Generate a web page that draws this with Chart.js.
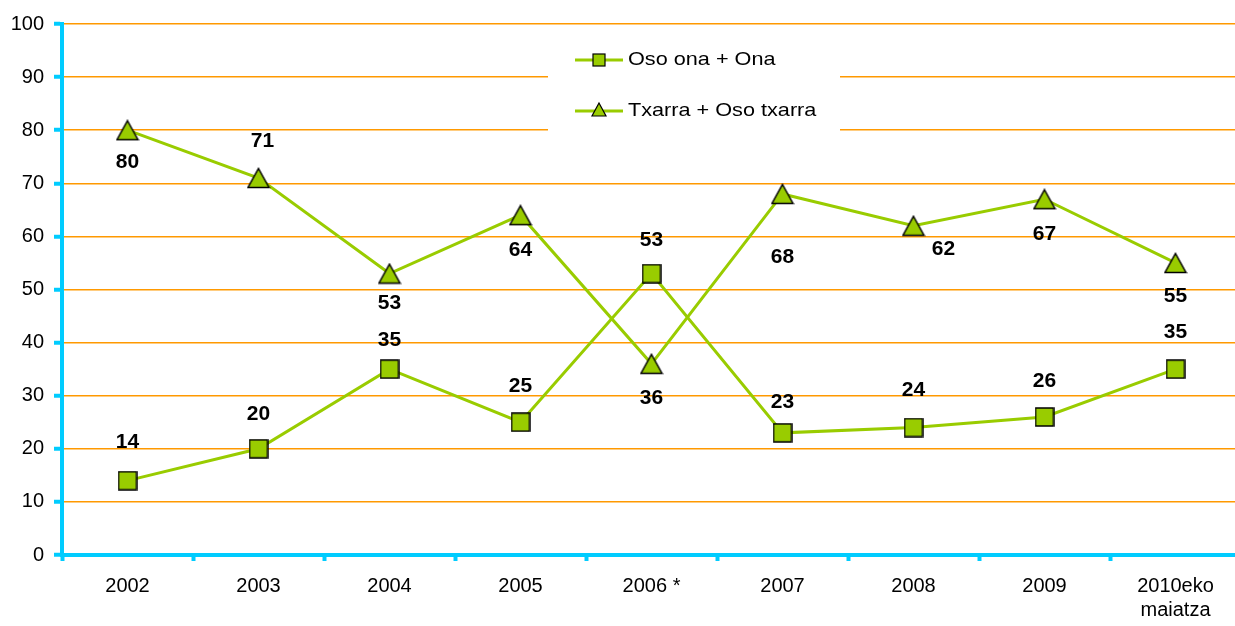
<!DOCTYPE html>
<html>
<head>
<meta charset="utf-8">
<script src="https://cdn.jsdelivr.net/npm/chart.js@4/dist/chart.umd.min.js"></script>
<style>
  html, body { margin: 0; padding: 0; background: #fff; overflow: hidden; }
  #wrap { width: 1235px; height: 626px; overflow: hidden; }
</style>
</head>
<body>
<div id="wrap"><canvas id="chart" width="1248" height="626"></canvas></div>
<script>
// chart data
const categories = ['2002', '2003', '2004', '2005', '2006 *', '2007', '2008', '2009', ['2010eko', 'maiatza']];
const osoOnaOna = [14, 20, 35, 25, 53, 23, 24, 26, 35];
const txarraOsoTxarra = [80, 71, 53, 64, 36, 68, 62, 67, 55];
const seriesNames = ['Oso ona + Ona', 'Txarra + Oso txarra'];
const yMin = 0, yMax = 100, yStep = 10;

// where the value labels sit relative to their marker (px)
const squareLabelDy = [-38, -35, -29, -36, -33, -31, -37, -36, -37];
const triangleLabelDy = [32, -37, 30, 35, 34, 63, 23, 35, 33];
const triangleLabelDx = [0, 4, 0, 0, 0, 0, 30, 0, 0];

const GREEN = '#99CC00';
const CYAN = '#00CCFF';
const ORANGE = '#FF9900';
const FONT = "'Liberation Sans', Arial, sans-serif";
Chart.defaults.font.family = FONT;
Chart.defaults.color = '#000';

// marker images
function makeSquare() {
    const c = document.createElement('canvas');
    c.width = 20; c.height = 20;
    const g = c.getContext('2d');
    g.fillStyle = GREEN;
    g.strokeStyle = '#000';
    g.lineWidth = 1.5;
    g.fillRect(1, 1, 18, 18);
    g.strokeRect(1, 1, 18, 18);
    return c;
}
function makeTriangle() {
    const c = document.createElement('canvas');
    c.width = 24; c.height = 22;
    const g = c.getContext('2d');
    g.fillStyle = GREEN;
    g.strokeStyle = '#000';
    g.lineWidth = 1.5;
    g.beginPath();
    g.moveTo(12, 1.5);
    g.lineTo(22.5, 20.5);
    g.lineTo(1.5, 20.5);
    g.closePath();
    g.fill();
    g.stroke();
    return c;
}
const squareImg = makeSquare();
const triangleImg = makeTriangle();

// legend drawn inside the plot on a white box
const legendBox = {
    id: 'legendBox',
    afterDatasetsDraw(chart) {
        const ctx = chart.ctx;
        ctx.save();
        ctx.fillStyle = '#fff';
        ctx.fillRect(548, 36, 292, 97);
        const rows = [60, 111];
        rows.forEach((y, i) => {
            ctx.strokeStyle = GREEN;
            ctx.lineWidth = 3;
            ctx.beginPath();
            ctx.moveTo(575, y);
            ctx.lineTo(623, y);
            ctx.stroke();
            ctx.fillStyle = GREEN;
            ctx.strokeStyle = '#000';
            ctx.lineWidth = 1.2;
            if (i === 0) {
                ctx.fillRect(593, y - 6, 12, 12);
                ctx.strokeRect(593, y - 6, 12, 12);
            } else {
                ctx.beginPath();
                ctx.moveTo(599, y - 8);
                ctx.lineTo(606, y + 5);
                ctx.lineTo(592, y + 5);
                ctx.closePath();
                ctx.fill();
                ctx.stroke();
            }
            // text is a bit wider than normal in the original
            ctx.fillStyle = '#000';
            ctx.font = '19px ' + FONT;
            ctx.textAlign = 'left';
            ctx.textBaseline = 'middle';
            ctx.save();
            ctx.translate(628, y);
            ctx.scale(1.14, 1);
            ctx.fillText(seriesNames[i], 0, 0);
            ctx.restore();
        });
        ctx.restore();
    }
};

// bold value labels
const valueLabels = {
    id: 'valueLabels',
    afterDatasetsDraw(chart) {
        const ctx = chart.ctx;
        ctx.save();
        ctx.fillStyle = '#000';
        ctx.font = 'bold 21px ' + FONT;
        ctx.textAlign = 'center';
        ctx.textBaseline = 'middle';
        chart.getDatasetMeta(0).data.forEach((pt, i) => {
            ctx.fillText(String(osoOnaOna[i]), pt.x, pt.y + squareLabelDy[i]);
        });
        chart.getDatasetMeta(1).data.forEach((pt, i) => {
            ctx.fillText(String(txarraOsoTxarra[i]), pt.x + triangleLabelDx[i], pt.y + triangleLabelDy[i]);
        });
        ctx.restore();
    }
};

const ctx = document.getElementById('chart').getContext('2d');
new Chart(ctx, {
    type: 'line',
    data: {
        labels: categories,
        datasets: [
            {
                label: seriesNames[0],
                data: osoOnaOna,
                borderColor: GREEN,
                borderWidth: 3,
                pointStyle: squareImg,
                tension: 0
            },
            {
                label: seriesNames[1],
                data: txarraOsoTxarra,
                borderColor: GREEN,
                borderWidth: 3,
                pointStyle: triangleImg,
                tension: 0
            }
        ]
    },
    options: {
        responsive: false,
        animation: false,
        layout: { padding: { top: 24, right: 0, left: 0, bottom: 0 } },
        plugins: {
            legend: { display: false },
            tooltip: { enabled: false }
        },
        scales: {
            x: {
                offset: true,
                grid: {
                    offset: true,
                    drawOnChartArea: false,
                    tickLength: 6,
                    tickColor: CYAN,
                    tickWidth: 4
                },
                border: { color: CYAN, width: 4 },
                ticks: {
                    padding: 13,
                    maxRotation: 0,
                    autoSkip: false,
                    font: { size: 20, lineHeight: 1.2 },
                    color: '#000'
                },
                afterFit(scale) { scale.height = 71; }
            },
            y: {
                min: yMin,
                max: yMax,
                grid: {
                    color: ORANGE,
                    lineWidth: 1.5,
                    tickLength: 8,
                    tickColor: CYAN,
                    tickWidth: 4
                },
                border: { color: CYAN, width: 4 },
                ticks: {
                    stepSize: yStep,
                    padding: 10,
                    font: { size: 20 },
                    color: '#000'
                },
                afterFit(scale) { scale.width = 62; }
            }
        }
    },
    plugins: [legendBox, valueLabels]
});
</script>
</body>
</html>
